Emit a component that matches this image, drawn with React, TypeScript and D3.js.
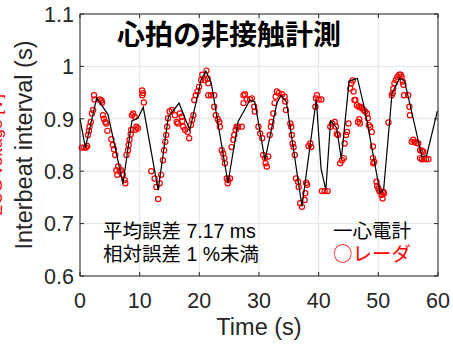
import * as d3 from "d3";

// ECG (line) – interbeat intervals
const ecgTime = [0, 0.9, 2.8, 4.7, 7.2, 8.7, 9.7, 10.6, 13.1, 14.8, 16.6, 18.4, 20.3, 21.1, 22.0, 24.8, 26.5, 28.5, 29.3, 31.0, 33.0, 33.7, 34.6, 37.2, 39.6, 40.4, 41.2, 42.0, 43.0, 43.8, 45.1, 46.5, 47.8, 50.3, 50.9, 52.3, 53.6, 54.4, 57.3, 58.1, 59.9];
const ecgInterval = [0.9, 0.845, 0.94, 0.908, 0.776, 0.896, 0.901, 0.922, 0.764, 0.903, 0.93, 0.878, 0.975, 0.991, 0.968, 0.777, 0.895, 0.936, 0.932, 0.821, 0.93, 0.945, 0.932, 0.733, 0.937, 0.805, 0.764, 0.896, 0.883, 0.823, 0.972, 0.977, 0.914, 0.758, 0.766, 0.949, 0.978, 0.972, 0.828, 0.83, 0.915];

// radar (circles)
const radarTime = [
  0.3, 0.7, 1.0, 1.2, 1.34, 1.5, 1.6, 1.8, 2.0, 2.2, 2.35, 2.45, 3.3, 3.6, 3.7, 3.85, 4.0, 4.25, 4.4, 4.6,
  5.25, 5.5, 5.7, 5.9, 6.1, 6.25, 6.4, 6.65, 6.9, 7.2, 7.5, 7.6, 7.8, 8.05, 8.15, 8.3, 8.5, 8.6,
  8.7, 8.9, 9.15, 9.3, 9.45, 9.7, 10.4, 10.45, 10.55, 10.7, 11.95, 12.5, 12.8, 13.1, 13.35, 13.6,
  13.9, 14.1, 14.3, 14.45, 14.6, 14.75, 15.0, 15.4, 15.9, 16.2, 16.4, 16.75, 17.05, 17.15,
  17.3, 17.6, 18.05, 18.3, 18.6, 18.8, 19.0, 19.15, 19.4, 19.7, 19.95, 20.3, 20.5, 20.95, 21.2, 21.4, 21.5,
  21.5, 21.95, 22.5, 22.5, 22.75, 23.1, 23.35, 23.45, 23.75, 24.0, 24.2, 24.3, 24.6, 24.75, 24.85, 25.15,
  25.4, 25.7, 25.85, 26.1, 26.25, 26.5, 27.1, 27.4, 27.65, 27.4, 27.95, 28.5, 28.8, 29.2, 29.3,
  29.9, 30.2, 30.55, 30.7, 31.0, 31.1, 31.3, 31.55, 31.8, 32.0, 32.1, 32.4, 32.6, 32.8, 33.0, 33.3, 33.85, 34.3, 34.4, 34.5,
  35.25, 35.4, 35.5, 35.65, 35.8, 36.0, 36.2, 36.55, 36.65, 36.9, 37.2, 37.65, 37.75, 37.9, 38.05,
  38.3, 38.6, 38.75, 39.45, 39.55, 39.7, 40.0, 40.45, 40.55, 41.0, 41.5,
  41.95, 42.25, 42.7, 42.9, 43.05, 43.25, 43.6, 43.9, 44.2, 44.35, 44.6, 44.75, 45.0,
  45.3, 45.45, 45.7, 45.85, 46.0, 46.15, 46.4, 46.7, 47.0, 47.25, 47.55, 47.8, 48.1, 48.25, 48.4, 48.65, 46.6, 46.8, 46.9,
  48.9, 49.1, 49.1, 49.3, 49.15, 49.7, 49.8, 50.0, 50.15, 50.3, 50.55, 50.7, 50.8, 50.95, 51.7,
  52.25, 52.4, 52.5, 52.7, 52.95, 53.2, 53.5, 53.75, 53.9, 54.1, 54.2, 54.3, 55.0, 55.2, 55.3,
  55.6, 55.85, 56.1, 56.4, 56.7, 57.0, 57.3, 57.55, 57.0, 57.3, 57.65, 58.0, 58.4,
];
const radarInterval = [
  0.845, 0.845, 0.845, 0.848, 0.869, 0.877, 0.885, 0.894, 0.91, 0.917, 0.945, 0.937, 0.937, 0.935, 0.931, 0.907, 0.9, 0.894, 0.891, 0.877,
  0.861, 0.85, 0.842, 0.831, 0.802, 0.793, 0.809, 0.8, 0.802, 0.793, 0.783, 0.777, 0.831, 0.84, 0.85, 0.86, 0.871, 0.879,
  0.907, 0.91, 0.904, 0.879, 0.885, 0.882, 0.954, 0.945, 0.949, 0.931, 0.8, 0.786, 0.77, 0.747, 0.777, 0.793,
  0.821, 0.84, 0.856, 0.869, 0.885, 0.901, 0.914, 0.917, 0.907, 0.894, 0.891, 0.91, 0.904, 0.896,
  0.885, 0.879, 0.875, 0.863, 0.888, 0.898, 0.907, 0.936, 0.945, 0.952, 0.961, 0.974, 0.984, 0.974, 0.992, 0.977, 0.968,
  0.945, 0.945, 0.945, 0.923, 0.907, 0.899, 0.894, 0.885, 0.84, 0.834, 0.825, 0.815, 0.786, 0.777, 0.783, 0.786,
  0.846, 0.86, 0.869, 0.879, 0.885, 0.885, 0.885, 0.945, 0.947, 0.93, 0.937, 0.937, 0.939, 0.923, 0.914,
  0.885, 0.872, 0.863, 0.831, 0.825, 0.815, 0.809, 0.828, 0.869, 0.885, 0.894, 0.91, 0.93, 0.942, 0.952, 0.949, 0.947, 0.942, 0.933, 0.917,
  0.891, 0.885, 0.869, 0.853, 0.846, 0.831, 0.786, 0.78, 0.77, 0.739, 0.732, 0.745, 0.758, 0.778, 0.774,
  0.848, 0.853, 0.846, 0.923, 0.939, 0.945, 0.937, 0.937, 0.762, 0.762, 0.762,
  0.885, 0.891, 0.894, 0.885, 0.871, 0.869, 0.815, 0.821, 0.825, 0.853, 0.869, 0.875, 0.891,
  0.958, 0.968, 0.973, 0.952, 0.936, 0.936, 0.926, 0.923, 0.923, 0.92, 0.917, 0.914, 0.91, 0.901, 0.888, 0.885, 0.894, 0.899, 0.891,
  0.875, 0.847, 0.825, 0.818, 0.815, 0.78, 0.772, 0.767, 0.763, 0.761, 0.755, 0.748, 0.761, 0.758, 0.893,
  0.945, 0.949, 0.958, 0.968, 0.974, 0.98, 0.984, 0.984, 0.98, 0.971, 0.965, 0.945, 0.945, 0.923, 0.907,
  0.856, 0.86, 0.856, 0.854, 0.853, 0.84, 0.839, 0.837, 0.825, 0.823, 0.823, 0.823, 0.823,
];

const xTicks = [0, 10, 20, 30, 40, 50, 60];
const yTicks = [0.6, 0.7, 0.8, 0.9, 1.0, 1.1];
const yTickLabels = ["0.6", "0.7", "0.8", "0.9", "1", "1.1"];

const W = 453;
const H = 345;
const left = 80;
const right = 438;
const top = 14;
const bottom = 276;
const axisColor = "#262626";
const latin = "'Liberation Sans', Arial, sans-serif";
const jp = "'Liberation Sans', 'Noto Sans CJK JP', sans-serif";
const jpOnly = "'Noto Sans CJK JP', sans-serif";

export default function App() {
  const x = d3.scaleLinear().domain([0, 60]).range([left, right]);
  const y = d3.scaleLinear().domain([0.6, 1.1]).range([bottom, top]);

  const ecg = ecgTime.map((t, i) => [t, ecgInterval[i]] as [number, number]);
  const line = d3
    .line<[number, number]>()
    .x((d) => x(d[0]))
    .y((d) => y(d[1]));

  return (
    <svg
      width={W}
      height={H}
      style={{ position: "absolute", left: 0, top: 0, background: "#fff" }}
    >
      {/* secondary label, mostly outside the figure on the left */}
      <text
        transform="translate(1.5,155) rotate(-90)"
        textAnchor="middle"
        fill="#ff0000"
        fontSize={17}
        fontFamily={latin}
      >
        ECG voltage [V]
      </text>

      {/* grid */}
      {xTicks.map((t) => (
        <line key={"gx" + t} x1={x(t)} x2={x(t)} y1={top} y2={bottom} stroke="#e3e3e3" strokeWidth={1} />
      ))}
      {yTicks.map((t) => (
        <line key={"gy" + t} x1={left} x2={right} y1={y(t)} y2={y(t)} stroke="#e3e3e3" strokeWidth={1} />
      ))}

      {/* radar circles */}
      <g>
        {radarTime.map((t, i) => (
          <circle
            key={"r" + i}
            cx={x(t)}
            cy={y(radarInterval[i])}
            r={2.6}
            fill="none"
            stroke="#ff0000"
            strokeWidth={1.2}
          />
        ))}
      </g>

      {/* ECG line */}
      <path d={line(ecg) || ""} fill="none" stroke="#000" strokeWidth={1.2} />

      {/* box + ticks */}
      <rect x={left} y={top} width={right - left} height={bottom - top} fill="none" stroke={axisColor} strokeWidth={1} />
      {xTicks.map((t) => (
        <g key={"tx" + t}>
          <line x1={x(t)} x2={x(t)} y1={bottom} y2={bottom - 4} stroke={axisColor} />
          <line x1={x(t)} x2={x(t)} y1={top} y2={top + 4} stroke={axisColor} />
          <text x={x(t)} y={308} textAnchor="middle" fill={axisColor} fontSize={21.5} fontFamily={latin}>
            {t}
          </text>
        </g>
      ))}
      {yTicks.map((t, i) => (
        <g key={"ty" + t}>
          <line x1={left} x2={left + 4} y1={y(t)} y2={y(t)} stroke={axisColor} />
          <line x1={right} x2={right - 4} y1={y(t)} y2={y(t)} stroke={axisColor} />
          <text x={74} y={y(t)} dy="0.36em" textAnchor="end" fill={axisColor} fontSize={21.5} fontFamily={latin}>
            {yTickLabels[i]}
          </text>
        </g>
      ))}

      {/* axis labels */}
      <text x={(left + right) / 2} y={335} textAnchor="middle" fill={axisColor} fontSize={23.5} fontFamily={latin}>
        Time (s)
      </text>
      <text
        transform={`translate(32,${(top + bottom) / 2}) rotate(-90)`}
        textAnchor="middle"
        fill={axisColor}
        fontSize={23.5}
        fontFamily={latin}
      >
        Interbeat interval (s)
      </text>

      {/* title */}
      <text x={229} y={45} textAnchor="middle" fill="#000" fontSize={28} fontWeight="bold" fontFamily={jpOnly}>
        心拍の非接触計測
      </text>

      {/* annotations */}
      <text x={103} y={238} fill="#000" fontSize={19.5} fontFamily={jp}>
        平均誤差 7.17 ms
      </text>
      <text x={103} y={261} fill="#000" fontSize={19.5} fontFamily={jp}>
        相対誤差 1 %未満
      </text>
      <text x={333} y={238} fill="#000" fontSize={19.5} fontFamily={jpOnly}>
        一心電計
      </text>
      <text x={333} y={261} fill="#ff0000" fontSize={19.5} fontFamily={jpOnly}>
        ○レーダ
      </text>
    </svg>
  );
}
